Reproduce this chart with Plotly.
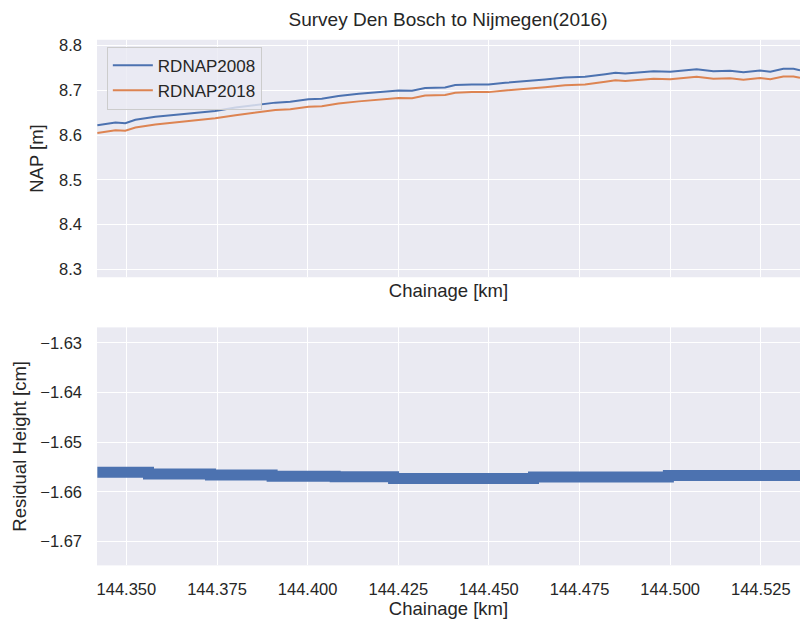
import plotly.graph_objects as go

# Chainage [km] sample positions
chainage = [144.3420, 144.3470, 144.3497, 144.3525, 144.3580, 144.3635, 144.3690,
            144.3745, 144.3801, 144.3856, 144.3911, 144.3952, 144.4002, 144.4039,
            144.4085, 144.4141, 144.4196, 144.4251, 144.4288, 144.4324, 144.4379,
            144.4407, 144.4453, 144.4499, 144.4545, 144.4600, 144.4655, 144.4710,
            144.4765, 144.4821, 144.4849, 144.4876, 144.4908, 144.4954, 144.5000,
            144.5073, 144.5119, 144.5165, 144.5202, 144.5248, 144.5276, 144.5312,
            144.5340, 144.5358]

rdnap2008 = [8.6222, 8.6282, 8.6267, 8.6342, 8.6409, 8.6453, 8.6504,
             8.6542, 8.6616, 8.6676, 8.6727, 8.6749, 8.6800, 8.6816,
             8.6876, 8.6927, 8.6964, 8.7000, 8.6993, 8.7053, 8.7067,
             8.7120, 8.7133, 8.7133, 8.7171, 8.7200, 8.7244, 8.7289,
             8.7304, 8.7364, 8.7393, 8.7378, 8.7393, 8.7431, 8.7416,
             8.7476, 8.7431, 8.7438, 8.7409, 8.7444, 8.7416, 8.7482,
             8.7482, 8.7453]

rdnap2018 = [8.6050, 8.6110, 8.6100, 8.6170, 8.6240, 8.6285, 8.6335,
             8.6375, 8.6445, 8.6505, 8.6560, 8.6580, 8.6635, 8.6645,
             8.6705, 8.6755, 8.6795, 8.6830, 8.6825, 8.6885, 8.6897,
             8.6950, 8.6962, 8.6962, 8.7000, 8.7030, 8.7073, 8.7118,
             8.7133, 8.7193, 8.7225, 8.7210, 8.7225, 8.7262, 8.7248,
             8.7308, 8.7262, 8.7270, 8.7240, 8.7276, 8.7248, 8.7312,
             8.7312, 8.7283]

# Residual height [cm] (step-wise), breakpoints in chainage
res_chainage = [144.3420, 144.3561, 144.3732, 144.3902, 144.4076, 144.4237,
                144.4623, 144.4995, 144.5358]
res_height = [-1.65606, -1.65638, -1.65662, -1.65688, -1.65698, -1.65732,
              -1.65702, -1.65672, -1.65672]

x_ticks = [144.350, 144.375, 144.400, 144.425, 144.450, 144.475, 144.500, 144.525]
y1_ticks = [8.3, 8.4, 8.5, 8.6, 8.7, 8.8]
y2_ticks = [-1.67, -1.66, -1.65, -1.64, -1.63]

BLUE = "#4C72B0"
ORANGE = "#DD8452"
BG = "#EAEAF2"
TXT = "#262626"
FONT = "Liberation Sans, Arial, sans-serif"
TICK_SIZE = 16.5
LABEL_SIZE = 18.5

fig = go.Figure()
fig.add_trace(go.Scatter(x=chainage, y=rdnap2008, mode="lines", name="RDNAP2008",
                         line=dict(color=BLUE, width=2), xaxis="x", yaxis="y"))
fig.add_trace(go.Scatter(x=chainage, y=rdnap2018, mode="lines", name="RDNAP2018",
                         line=dict(color=ORANGE, width=2), xaxis="x", yaxis="y"))
fig.add_trace(go.Scatter(x=res_chainage, y=res_height, mode="lines", showlegend=False,
                         line=dict(color=BLUE, width=11, shape="hv"),
                         xaxis="x2", yaxis="y2"))

xrange = [144.3419, 144.5358]
common_x = dict(range=xrange, tickvals=x_ticks, showgrid=True, gridcolor="white",
                gridwidth=1.2, zeroline=False, showline=False, ticks="",
                tickfont=dict(size=TICK_SIZE, color=TXT, family=FONT))
common_y = dict(showgrid=True, gridcolor="white", gridwidth=1.2, zeroline=False,
                showline=False, ticks="", ticklabelstandoff=14,
                tickfont=dict(size=TICK_SIZE, color=TXT, family=FONT))

fig.update_layout(
    width=800, height=623,
    margin=dict(l=97, r=0, t=0, b=0),
    paper_bgcolor="white",
    plot_bgcolor=BG,
    font=dict(family=FONT, color=TXT, size=TICK_SIZE),
    title=dict(text="Survey Den Bosch to Nijmegen(2016)", x=0.56, xanchor="center",
               y=1 - 19 / 623, yanchor="middle",
               font=dict(size=19, color=TXT, family=FONT)),
    xaxis=dict(common_x, domain=[0, 1], anchor="y", showticklabels=False,
               title=dict(text="Chainage [km]", standoff=6,
                          font=dict(size=LABEL_SIZE, color=TXT, family=FONT))),
    yaxis=dict(common_y, domain=[(623 - 276) / 623, (623 - 37) / 623], anchor="x",
               range=[8.2822, 8.8133], tickvals=y1_ticks, tickformat=".1f",
               title=dict(text="NAP [m]", standoff=10,
                          font=dict(size=LABEL_SIZE, color=TXT, family=FONT))),
    xaxis2=dict(common_x, domain=[0, 1], anchor="y2", tickformat=".3f",
                ticklabelstandoff=12,
                title=dict(text="Chainage [km]", standoff=2,
                           font=dict(size=LABEL_SIZE, color=TXT, family=FONT))),
    yaxis2=dict(common_y, domain=[(623 - 566) / 623, (623 - 326.5) / 623], anchor="x2",
                range=[-1.67481, -1.62687], tickvals=y2_ticks, tickformat=".2f",
                title=dict(text="Residual Height [cm]", standoff=8,
                           font=dict(size=LABEL_SIZE, color=TXT, family=FONT))),
    legend=dict(x=0.014, y=(623 - 44) / 623, xanchor="left", yanchor="top",
                xref="paper", yref="paper",
                bgcolor="rgba(234,234,242,0.8)", bordercolor="#CCCCCC", borderwidth=1,
                font=dict(size=17, color=TXT, family=FONT),
                itemwidth=40, tracegroupgap=2),
    showlegend=True,
)

fig.write_html("out.html")
